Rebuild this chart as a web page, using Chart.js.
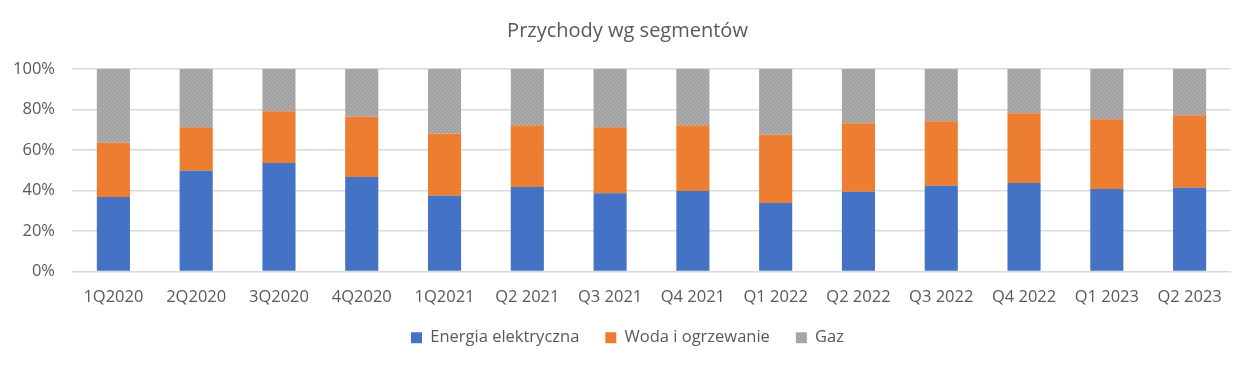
<!DOCTYPE html>
<html>
<head>
<meta charset="utf-8">
<script src="https://cdn.jsdelivr.net/npm/chart.js@4"></script>
<style>
  html, body { margin: 0; padding: 0; background: #fff; }
  #wrap { width: 1254px; height: 367px; }
</style>
</head>
<body>
<div id="wrap"><canvas id="myChart" width="1254" height="367"></canvas></div>
<script>
const categories = ['1Q2020', '2Q2020', '3Q2020', '4Q2020', '1Q2021', 'Q2 2021', 'Q3 2021',
    'Q4 2021', 'Q1 2022', 'Q2 2022', 'Q3 2022', 'Q4 2022', 'Q1 2023', 'Q2 2023'];

// udział procentowy segmentów
const energia = [36.8, 49.7, 53.6, 46.7, 37.4, 41.7, 38.7, 39.7, 33.8, 39.4, 42.4, 43.7, 40.7, 41.4];
const woda = [26.8, 21.5, 25.5, 29.8, 30.8, 30.5, 32.5, 32.5, 33.7, 33.8, 31.8, 34.4, 34.5, 35.8];
const gaz = [36.4, 28.8, 20.9, 23.5, 31.8, 27.8, 28.8, 27.8, 32.5, 26.8, 25.8, 21.9, 24.8, 22.8];

const yTicks = [0, 20, 40, 60, 80, 100];

// szary wzór dla "Gaz"
function grayPattern() {
    const c = document.createElement('canvas');
    c.width = 4; c.height = 4;
    const g = c.getContext('2d');
    g.fillStyle = '#a6a6a6';
    g.fillRect(0, 0, 4, 4);
    g.fillStyle = '#979797';
    g.fillRect(0, 0, 1, 1);
    g.fillRect(2, 2, 1, 1);
    g.fillStyle = '#b4b4b4';
    g.fillRect(2, 0, 1, 1);
    g.fillRect(0, 2, 1, 1);
    return g.createPattern(c, 'repeat');
}

// tytuł i legenda wyśrodkowane na całej szerokości, legenda bliżej osi
const boxShift = {
    id: 'boxShift',
    afterLayout(chart) {
        for (const box of [chart.titleBlock, chart.legend]) {
            if (box) { box.left += 12; box.right += 12; }
        }
        if (chart.legend) { chart.legend.top -= 8; chart.legend.bottom -= 8; }
    }
};

Chart.defaults.font.family = '"Segoe UI", "Open Sans", "Noto Sans", sans-serif';
Chart.defaults.color = '#595959';

const ctx = document.getElementById('myChart');

new Chart(ctx, {
    type: 'bar',
    data: {
        labels: categories,
        datasets: [
            { label: 'Energia elektryczna', data: energia, backgroundColor: '#4472c4' },
            { label: 'Woda i ogrzewanie', data: woda, backgroundColor: '#ed7d31' },
            { label: 'Gaz', data: gaz, backgroundColor: grayPattern() }
        ]
    },
    plugins: [boxShift],
    options: {
        responsive: false,
        animation: false,
        layout: { padding: { left: 0, right: 23, top: 10, bottom: 3 } },
        datasets: {
            bar: { categoryPercentage: 0.4, barPercentage: 1.0, borderWidth: 0 }
        },
        scales: {
            x: {
                stacked: true,
                grid: { display: false },
                border: { display: false },
                afterFit: (s) => { s.height = 40; },
                ticks: { font: { size: 16.5 }, color: '#595959', maxRotation: 0, padding: 8 }
            },
            y: {
                stacked: true,
                min: 0,
                max: 100,
                afterBuildTicks: (s) => { s.ticks = yTicks.map(v => ({ value: v })); },
                afterFit: (s) => { s.width = 72; },
                grid: { color: '#d9d9d9', lineWidth: 1.5, drawTicks: false },
                border: { display: false },
                ticks: {
                    font: { size: 16.5 }, color: '#595959', padding: 17,
                    callback: (v) => v + '%'
                }
            }
        },
        plugins: {
            title: {
                display: true,
                text: 'Przychody wg segmentów',
                font: { size: 20, weight: 'normal' },
                color: '#595959',
                padding: { top: 9, bottom: 26 }
            },
            legend: {
                position: 'bottom',
                labels: {
                    font: { size: 16.5 },
                    color: '#595959',
                    boxWidth: 11,
                    boxHeight: 11,
                    padding: 26
                }
            },
            tooltip: { enabled: false }
        }
    }
});
</script>
</body>
</html>
